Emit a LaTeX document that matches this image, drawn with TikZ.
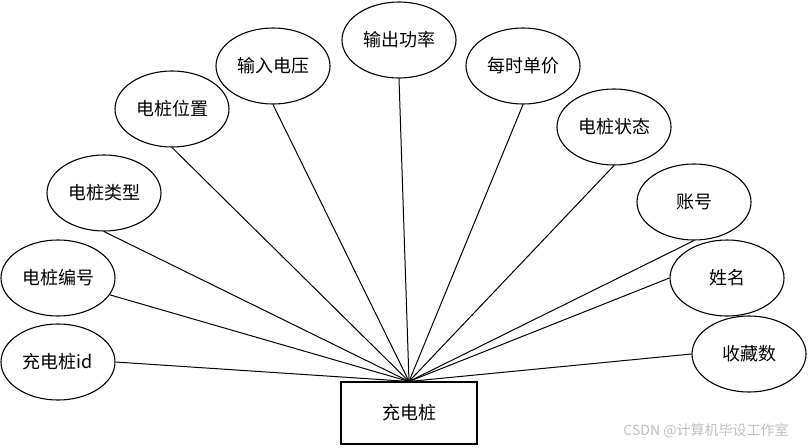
\documentclass[tikz,border=0pt]{standalone}
\usepackage{fontspec}
\newfontfamily\cjk{Noto Sans CJK SC}
\usetikzlibrary{shapes.geometric}

\begin{document}
\begin{tikzpicture}[
    x=1pt, y=-1pt,
    every node/.style={font=\cjk\fontsize{18}{20}\selectfont},
    attribut/.style={ellipse, draw, line width=1.1pt, minimum width=114pt,
                     minimum height=76pt, inner sep=0pt},
    entitaet/.style={rectangle, draw, line width=1.1pt, minimum width=136pt,
                     minimum height=62pt},
    kante/.style={line width=1pt},
  ]
  \useasboundingbox (0,0) rectangle (810,447);

  % Entität
  \node[entitaet] (zhuang) at (409,413) {充电桩};
  \coordinate (hub) at (zhuang.north);

  % Attribute, jeweils vom Anker zum Sammelpunkt
  \foreach \n/\x/\y/\t/\a in {id/58/362/充电桩id/east, bianhao/58/278/电桩编号/-18,
      leixing/104/193/电桩类型/south, weizhi/172/109/电桩位置/south,
      dianya/273/66/输入电压/south, gonglv/399/40/输出功率/south,
      danjia/523/66/每时单价/south, zhuangtai/614/127/电桩状态/south,
      zhanghao/694/202/账号/south, xingming/727/278/姓名/west,
      shoucang/749/354/收藏数/west} {
    \node[attribut] (\n) at (\x,\y) {\t};
    \draw[kante] (\n.\a) -- (hub);
  }

  % Wasserzeichen
  \node[text=black!25, font=\cjk\fontsize{14}{16}\selectfont] (wz) at (706,431)
    {CSDN @计算机毕设工作室};
\end{tikzpicture}
\end{document}
